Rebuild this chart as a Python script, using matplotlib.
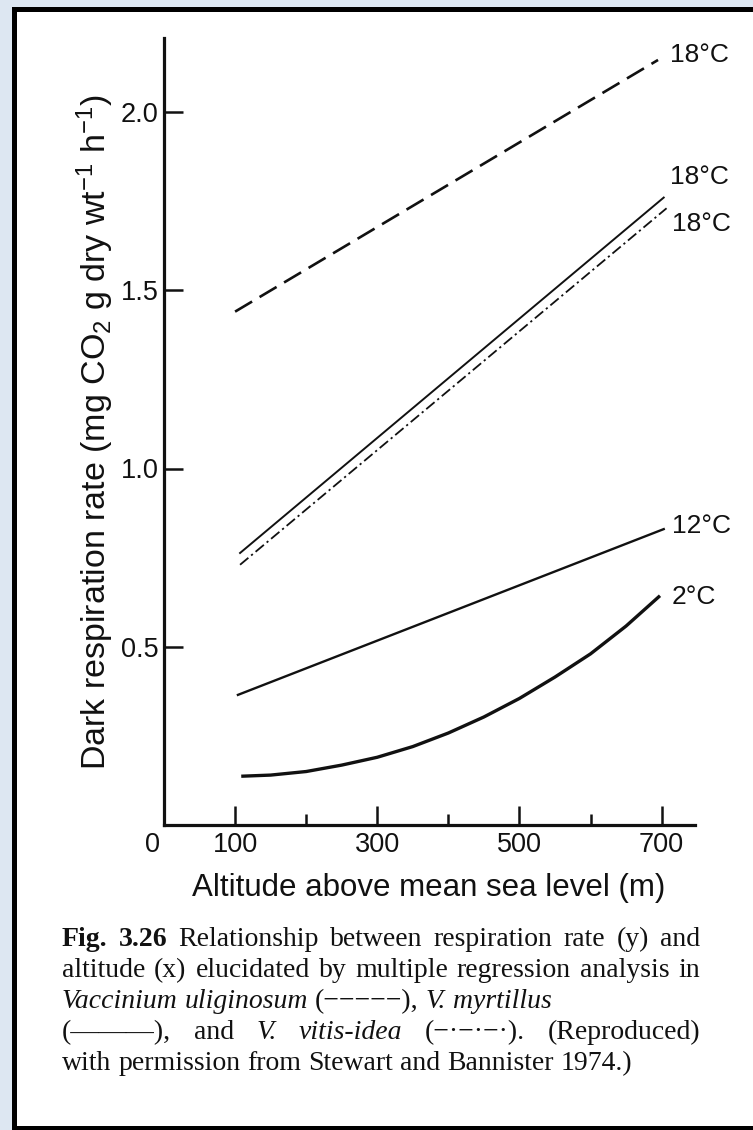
import matplotlib
matplotlib.use('Agg')
import matplotlib.pyplot as plt
from matplotlib.patches import Rectangle

# ---------------- data ----------------
alt_uliginosum = [100, 695]
resp_uliginosum = [1.44, 2.146]

alt_myrtillus18 = [107, 703]
resp_myrtillus18 = [0.763, 1.76]

alt_vitis18 = [107, 707]
resp_vitis18 = [0.73, 1.73]

alt_myrtillus12 = [104, 703]
resp_myrtillus12 = [0.365, 0.83]

alt_myrtillus2 = [111, 150, 200, 250, 300, 350, 400, 450, 500, 550, 600, 650, 696]
resp_myrtillus2 = [0.137, 0.140, 0.150, 0.168, 0.190, 0.220, 0.258, 0.303, 0.355, 0.415, 0.480, 0.558, 0.640]

x_major = [100, 300, 500, 700]
x_minor = [200, 400, 600]
y_major = [0.5, 1.0, 1.5, 2.0]
y_labels = ['0.5', '1.0', '1.5', '2.0']
curve_labels = ['18°C', '18°C', '18°C', '12°C', '2°C']

# ---------------- figure ----------------
W, H = 753, 1130
fig = plt.figure(figsize=(W / 100, H / 100), dpi=100, facecolor='#dde7f2')

def fx(px):
    return px / W

def fy(py):
    return 1 - py / H

# frame of the scanned page
fig.patches.append(Rectangle((fx(12), 0), 1, fy(7), transform=fig.transFigure,
                             facecolor='black', edgecolor='none', zorder=-2))
fig.patches.append(Rectangle((fx(17), fy(1126)), 1, fy(12) - fy(1126),
                             transform=fig.transFigure, facecolor='white',
                             edgecolor='none', zorder=-1))

sans = 'Liberation Sans'
serif = 'Liberation Serif'
plt.rcParams['mathtext.fontset'] = 'custom'
plt.rcParams['mathtext.rm'] = sans
plt.rcParams['mathtext.it'] = sans + ':italic'
plt.rcParams['mathtext.bf'] = sans + ':bold'

ax = fig.add_axes([fx(164), fy(825), fx(695) - fx(164), fy(38) - fy(825)])
ax.set_facecolor('none')
ax.set_xlim(0, 747)
ax.set_ylim(0, (825 - 38) / 356.5)
for s in ['top', 'right']:
    ax.spines[s].set_visible(False)
for s in ['left', 'bottom']:
    ax.spines[s].set_linewidth(2.3)
    ax.spines[s].set_color('#111111')

tick_fs = 19.5
ax.set_xticks(x_major)
ax.set_xticklabels([str(v) for v in x_major])
ax.set_xticks(x_minor, minor=True)
ax.set_yticks(y_major)
ax.set_yticklabels(y_labels)
ax.tick_params(axis='x', which='major', direction='in', length=14, width=1.8,
               labelsize=tick_fs, pad=5, colors='#111111')
ax.tick_params(axis='x', which='minor', direction='in', length=8, width=1.8,
               colors='#111111')
ax.tick_params(axis='y', which='major', direction='in', length=14, width=1.8,
               labelsize=tick_fs, pad=4, colors='#111111')
for lab in ax.get_xticklabels() + ax.get_yticklabels():
    lab.set_family(sans)

# "0" at the origin
ax.annotate('0', xy=(0, 0), xytext=(-12, -20), textcoords='offset pixels',
            ha='center', va='center', fontsize=tick_fs, family=sans, color='#111111',
            annotation_clip=False)

ink = '#111111'
ax.plot(alt_uliginosum, resp_uliginosum, color=ink, lw=1.9, dashes=(7.5, 3.3),
        solid_capstyle='butt')
ax.plot(alt_myrtillus18, resp_myrtillus18, color=ink, lw=1.4)
ax.plot(alt_vitis18, resp_vitis18, color=ink, lw=1.3, dashes=(6, 2, 1.2, 2))
ax.plot(alt_myrtillus12, resp_myrtillus12, color=ink, lw=1.7)
ax.plot(alt_myrtillus2, resp_myrtillus2, color=ink, lw=2.4)

ends = [(alt_uliginosum[-1], resp_uliginosum[-1], (12, 5)),
        (alt_myrtillus18[-1], resp_myrtillus18[-1], (6, 21)),
        (alt_vitis18[-1], resp_vitis18[-1], (5, -16)),
        (alt_myrtillus12[-1], resp_myrtillus12[-1], (8, 3)),
        (alt_myrtillus2[-1], resp_myrtillus2[-1], (13, 0))]
for lab, (xe, ye, off) in zip(curve_labels, ends):
    ax.annotate(lab, xy=(xe, ye), xytext=off, textcoords='offset pixels',
                ha='left', va='center', fontsize=19, family=sans, color=ink,
                annotation_clip=False)

# axis titles
fig.text(fx(429), fy(888), 'Altitude above mean sea level (m)', ha='center',
         va='center', fontsize=22.5, family=sans, color=ink)
fig.text(fx(95), fy(432),
         r'Dark respiration rate (mg CO$_2$ g dry wt$^{-1}$ h$^{-1}$)',
         rotation=90, ha='center', va='center', fontsize=24.5, family=sans,
         color=ink)

# ---------------- caption ----------------
cap_lines = [
    ([('Fig. 3.26', 'b'), ('Relationship between respiration rate (y) and', 'r')], True),
    ([('altitude (x) elucidated by multiple regression analysis in', 'r')], True),
    ([('Vaccinium uliginosum', 'i'), ('(−−−−−),', 'r'), ('V. myrtillus', 'i')], False),
    ([('(———),', 'r'), ('and', 'r'), ('V.', 'i'), ('vitis-idea', 'i'),
      ('(−·−·−·).', 'r'), ('(Reproduced)', 'r')], True),
    ([('with permission from Stewart and Bannister 1974.)', 'r')], False),
]
baselines = [946, 977, 1008, 1039, 1070]
cap_left, cap_right = 62, 700
cap_size = 20
renderer = fig.canvas.get_renderer()
space_px = 0.25 * cap_size * 100 / 72

for (segs, justify), yb in zip(cap_lines, baselines):
    words = []
    for txt, st in segs:
        for w in txt.split(' '):
            words.append((w, st))
    artists = []
    for w, st in words:
        t = fig.text(0, fy(yb), w, fontsize=cap_size, family=serif,
                     weight='bold' if st == 'b' else 'normal',
                     style='italic' if st == 'i' else 'normal',
                     ha='left', va='baseline', color=ink)
        artists.append(t)
    widths = [a.get_window_extent(renderer=renderer).width for a in artists]
    if justify and len(words) > 1:
        gap = (cap_right - cap_left - sum(widths)) / (len(words) - 1)
    else:
        gap = space_px
    x = cap_left
    for a, wdt in zip(artists, widths):
        a.set_x(fx(x))
        x += wdt + gap

fig.savefig('out.png', dpi=100, facecolor=fig.get_facecolor())
